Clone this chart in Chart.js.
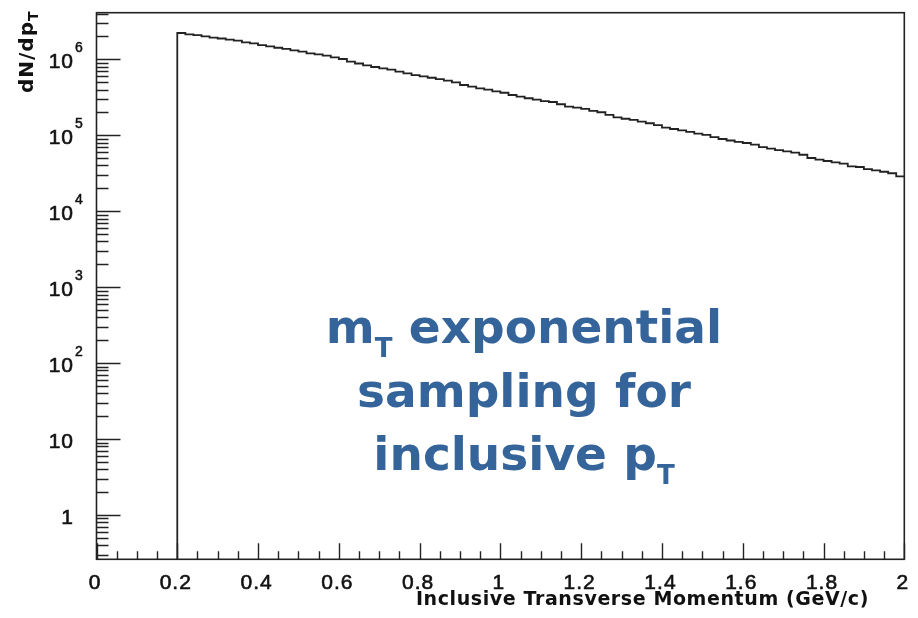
<!DOCTYPE html>
<html>
<head>
<meta charset="utf-8">
<script src="https://cdn.jsdelivr.net/npm/chart.js@4.4.1/dist/chart.umd.min.js"></script>
<style>
    html, body { margin: 0; padding: 0; background: #fff; }
    #wrap { width: 918px; height: 618px; position: relative; }
</style>
</head>
<body>
<div id="wrap"><canvas id="pt-chart"></canvas></div>
<script>
// bin low edges (plus the last upper edge), GeV/c
const binEdges = [
    0.20, 0.22, 0.24, 0.26, 0.28, 0.30, 0.32, 0.34, 0.36, 0.38,
    0.40, 0.42, 0.44, 0.46, 0.48, 0.50, 0.52, 0.54, 0.56, 0.58,
    0.60, 0.62, 0.64, 0.66, 0.68, 0.70, 0.72, 0.74, 0.76, 0.78,
    0.80, 0.82, 0.84, 0.86, 0.88, 0.90, 0.92, 0.94, 0.96, 0.98,
    1.00, 1.02, 1.04, 1.06, 1.08, 1.10, 1.12, 1.14, 1.16, 1.18,
    1.20, 1.22, 1.24, 1.26, 1.28, 1.30, 1.32, 1.34, 1.36, 1.38,
    1.40, 1.42, 1.44, 1.46, 1.48, 1.50, 1.52, 1.54, 1.56, 1.58,
    1.60, 1.62, 1.64, 1.66, 1.68, 1.70, 1.72, 1.74, 1.76, 1.78,
    1.80, 1.82, 1.84, 1.86, 1.88, 1.90, 1.92, 1.94, 1.96, 1.98,
    2.00
];

// dN/dpT per bin
const binCounts = [
    2.22e6, 2.13e6, 2.08e6, 2.00e6, 1.93e6, 1.88e6, 1.82e6, 1.76e6, 1.67e6, 1.62e6,
    1.54e6, 1.48e6, 1.42e6, 1.37e6, 1.31e6, 1.26e6, 1.20e6, 1.16e6, 1.12e6, 1.06e6,
    1.01e6, 9.35e5, 8.81e5, 8.34e5, 7.92e5, 7.61e5, 7.30e5, 6.87e5, 6.54e5, 6.21e5,
    5.97e5, 5.72e5, 5.50e5, 5.23e5, 4.98e5, 4.59e5, 4.36e5, 4.15e5, 3.98e5, 3.79e5,
    3.63e5, 3.39e5, 3.22e5, 3.07e5, 2.94e5, 2.82e5, 2.74e5, 2.56e5, 2.38e5, 2.31e5,
    2.22e5, 2.10e5, 2.01e5, 1.85e5, 1.72e5, 1.65e5, 1.59e5, 1.51e5, 1.44e5, 1.36e5,
    1.26e5, 1.21e5, 1.16e5, 1.11e5, 1.05e5, 1.01e5, 9.48e4, 8.93e4, 8.53e4, 8.20e4,
    7.91e4, 7.55e4, 7.00e4, 6.65e4, 6.39e4, 6.15e4, 5.89e4, 5.54e4, 5.02e4, 4.77e4,
    4.58e4, 4.40e4, 4.22e4, 3.90e4, 3.82e4, 3.59e4, 3.45e4, 3.31e4, 3.16e4, 2.88e4
];

const xTickValues = [0, 0.2, 0.4, 0.6, 0.8, 1, 1.2, 1.4, 1.6, 1.8, 2];
const xTickLabels = ['0', '0.2', '0.4', '0.6', '0.8', '1', '1.2', '1.4', '1.6', '1.8', '2'];
const yTickValues = [1, 10, 1e2, 1e3, 1e4, 1e5, 1e6];
const yTickBase = ['1', '10', '10', '10', '10', '10', '10'];
const yTickPower = ['', '', '2', '3', '4', '5', '6'];

const xTitle = 'Inclusive Transverse Momentum (GeV/c)';
const yTitle = ['dN/dp', 'T'];
const noteLines = [
    [['m', false], ['T', true], [' exponential', false]],
    [['sampling for', false]],
    [['inclusive p', false], ['T', true]]
];

const yMin = 0.261, yMax = 4.11e6;

// histogram outline: start at the floor so the left edge drops to the frame
const points = [{ x: binEdges[0], y: yMin / 10 }];
binCounts.forEach((c, i) => points.push({ x: binEdges[i], y: c }));
points.push({ x: binEdges[binEdges.length - 1], y: binCounts[binCounts.length - 1] });

const ink = '#222';
const labelFont = '"Liberation Sans", Arial, sans-serif';

// draw text a little heavier, like the ROOT rendering
function heavyText(ctx, t, x, y, w) {
    ctx.fillText(t, x, y);
    ctx.lineWidth = w;
    ctx.strokeText(t, x, y);
}

const rootFrame = {
    id: 'rootFrame',
    afterDraw(chart) {
        const ctx = chart.ctx;
        const area = chart.chartArea;
        const xs = chart.scales.x, ys = chart.scales.y;
        ctx.save();
        ctx.strokeStyle = ink;
        ctx.lineWidth = 1.6;
        ctx.strokeRect(area.left, area.top, area.right - area.left, area.bottom - area.top);

        // y ticks (inside, on the left)
        ctx.lineWidth = 1.4;
        ctx.beginPath();
        for (let d = -1; d <= 6; d++) {
            for (let m = 1; m <= 9; m++) {
                const v = m * Math.pow(10, d);
                if (v < yMin || v > yMax) continue;
                const py = Math.round(ys.getPixelForValue(v)) + 0.5;
                const len = m === 1 ? 24 : 12;
                ctx.moveTo(area.left, py);
                ctx.lineTo(area.left + len, py);
            }
        }
        // x ticks (inside, at the bottom)
        for (let k = 0; k <= 40; k++) {
            const px = Math.round(xs.getPixelForValue(k * 0.05)) + 0.5;
            const len = k % 4 === 0 ? 16 : 8;
            ctx.moveTo(px, area.bottom);
            ctx.lineTo(px, area.bottom - len);
        }
        ctx.stroke();

        ctx.fillStyle = '#111';
        ctx.strokeStyle = '#111';
        // x tick labels
        ctx.font = '21px ' + labelFont;
        ctx.letterSpacing = '1px';
        ctx.textAlign = 'center';
        ctx.textBaseline = 'middle';
        xTickValues.forEach((v, i) => {
            heavyText(ctx, xTickLabels[i], xs.getPixelForValue(v) - 1.5, 583, 0.6);
        });
        // y tick labels with exponent
        yTickValues.forEach((v, i) => {
            const py = ys.getPixelForValue(v);
            ctx.font = '21px ' + labelFont;
            ctx.textAlign = 'right';
            ctx.textBaseline = 'middle';
            heavyText(ctx, yTickBase[i], 74, py + 3, 0.6);
            if (yTickPower[i]) {
                ctx.font = '14px ' + labelFont;
                ctx.textAlign = 'left';
                ctx.textBaseline = 'alphabetic';
                heavyText(ctx, yTickPower[i], 75, py - 7, 0.5);
            }
        });

        // axis titles
        ctx.font = 'bold 19px "DejaVu Sans", Verdana, sans-serif';
        ctx.letterSpacing = '0.6px';
        ctx.textAlign = 'right';
        ctx.textBaseline = 'alphabetic';
        ctx.fillText(xTitle, 869, 605);

        ctx.save();
        ctx.translate(33, 93);
        ctx.rotate(-Math.PI / 2);
        ctx.textAlign = 'left';
        ctx.letterSpacing = '1px';
        ctx.font = 'bold 20px "DejaVu Sans", Verdana, sans-serif';
        ctx.fillText(yTitle[0], 0, 0);
        const w0 = ctx.measureText(yTitle[0]).width;
        ctx.font = 'bold 14px "DejaVu Sans", Verdana, sans-serif';
        ctx.fillText(yTitle[1], w0, 5);
        ctx.restore();

        // blue note
        ctx.letterSpacing = '0px';
        ctx.fillStyle = '#346499';
        ctx.textAlign = 'left';
        const big = 'bold 47px "DejaVu Sans", Verdana, sans-serif';
        const small = 'bold 26px "DejaVu Sans", Verdana, sans-serif';
        const baselines = [343, 407, 470];
        noteLines.forEach((segs, li) => {
            let total = 0;
            segs.forEach(([t, sub]) => { ctx.font = sub ? small : big; total += ctx.measureText(t).width; });
            let x = 524 - total / 2;
            segs.forEach(([t, sub]) => {
                ctx.font = sub ? small : big;
                ctx.fillText(t, x, baselines[li] + (sub ? 14 : 0));
                x += ctx.measureText(t).width;
            });
        });
        ctx.restore();
    }
};

new Chart(document.getElementById('pt-chart').getContext('2d'), {
    type: 'line',
    data: {
        datasets: [{
            data: points,
            borderColor: ink,
            borderWidth: 1.8,
            pointRadius: 0,
            fill: false,
            stepped: 'before'
        }]
    },
    options: {
        responsive: true,
        maintainAspectRatio: false,
        animation: false,
        layout: { padding: { left: 96.5, top: 12.7, right: 13.7, bottom: 58.7 } },
        plugins: { legend: { display: false }, tooltip: { enabled: false } },
        scales: {
            x: { type: 'linear', min: 0, max: 2, display: false },
            y: { type: 'logarithmic', min: yMin, max: yMax, display: false }
        }
    },
    plugins: [rootFrame]
});
</script>
</body>
</html>
